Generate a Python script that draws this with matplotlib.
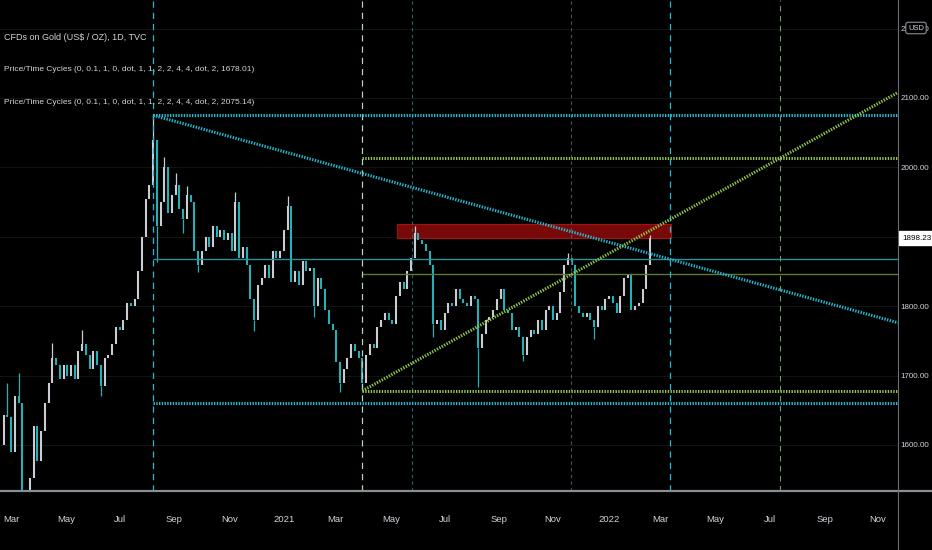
import matplotlib
matplotlib.use("Agg")
import matplotlib.pyplot as plt
import numpy as np
import pandas as pd

# gold closes, one every 3rd trading day from first_day to last_day
first_day = "2020-02-18"
last_day = "2022-02-18"
closes = [
    1600, 1643, 1640, 1590, 1670, 1660, 1530, 1477, 1553, 1627,
    1577, 1620, 1660, 1690, 1725, 1715, 1695, 1715, 1700, 1715,
    1695, 1735, 1745, 1730, 1710, 1735, 1715, 1685, 1725, 1730,
    1745, 1770, 1765, 1780, 1805, 1800, 1810, 1850, 1900, 1955,
    1975, 2040, 1915, 1950, 2000, 1935, 1960, 1975, 1940, 1925,
    1960, 1950, 1880, 1860, 1880, 1900, 1885, 1915, 1900, 1910,
    1895, 1905, 1880, 1950, 1870, 1885, 1860, 1810, 1780, 1830,
    1840, 1860, 1840, 1880, 1870, 1880, 1910, 1945, 1835, 1850,
    1830, 1865, 1850, 1855, 1800, 1840, 1825, 1795, 1775, 1765,
    1720, 1690, 1710, 1725, 1745, 1735, 1725, 1690, 1730, 1745,
    1740, 1770, 1780, 1790, 1780, 1775, 1815, 1835, 1825, 1850,
    1870, 1905, 1895, 1890, 1880, 1860, 1775, 1780, 1765, 1790,
    1805, 1800, 1825, 1810, 1805, 1800, 1815, 1810, 1740, 1760,
    1780, 1785, 1795, 1810, 1825, 1795, 1790, 1765, 1770, 1755,
    1730, 1755, 1765, 1760, 1780, 1765, 1795, 1800, 1780, 1790,
    1820, 1860, 1870, 1860, 1800, 1790, 1785, 1790, 1780, 1770,
    1800, 1795, 1810, 1815, 1805, 1790, 1815, 1840, 1845, 1795,
    1800, 1805, 1825, 1860, 1898.23,
]
# candle extremes beyond the bodies (sample number, price)
wick_at = [2, 5, 7, 14, 22, 27, 41, 42, 44, 47, 49, 50, 53, 63, 68, 77,
           84, 91, 97, 111, 116, 128, 140, 152, 159, 174]
wick_px = [1689, 1704, 1451, 1747, 1765, 1670, 2075.14, 1863, 2015, 1992,
           1906, 1973, 1849, 1965, 1764, 1959, 1785, 1677, 1678.01, 1916,
           1755, 1684, 1721, 1877, 1753, 1902]

cyan_day = "2020-08-07"
cyan_price = 2075.14
green_day = "2021-03-31"
green_price = 1678.01
step = 0.1

zone_from = "2021-05-10"
zone_to = "2022-03-14"
zone_low = 1898.3
zone_high = 1918.4

last_price = 1898.23
price_ticks = [1600, 1700, 1800, 1900, 2000, 2100, 2200]

title = "CFDs on Gold (US$ / OZ), 1D, TVC"
ind1 = "Price/Time Cycles (0, 0.1, 1, 0, dot, 1, 1, 2, 2, 4, 4, dot, 2, 1678.01)"
ind2 = "Price/Time Cycles (0, 0.1, 1, 0, dot, 1, 1, 2, 2, 4, 4, dot, 2, 2075.14)"

FONT = "Liberation Sans"
TXT = "#d1d4dc"
CYAN = "#27b9d3"
GREEN = "#8fc34f"
UP = "#c9ccd3"
DOWN = "#21b1b6"

days = pd.bdate_range(first_day, "2022-12-30")


def bar(day):
    return days.get_loc(pd.Timestamp(day))


fig = plt.figure(figsize=(9.32, 5.5), dpi=100, facecolor="black")
ax = fig.add_axes([0, 59 / 550, 898 / 932, 491 / 550], facecolor="black")
x0, x1 = 0, 721
ax.set_xlim(x0, x1)
ax.set_ylim(1533.7, 2241.2)

for p in price_ticks:
    ax.axhline(p, color="#121212", lw=0.8, zorder=0)

# candles
xs = np.arange(0, bar(last_day) + 1, 3)
for i in range(1, len(closes)):
    o, c = closes[i - 1], closes[i]
    col = UP if c >= o else DOWN
    ax.vlines(xs[i], min(o, c), max(o, c), color=col, lw=1.5, zorder=3)
for i, p in zip(wick_at, wick_px):
    o, c = closes[i - 1], closes[i]
    col = UP if c >= o else DOWN
    edge = max(o, c) if p > max(o, c) else min(o, c)
    ax.vlines(xs[i], min(edge, p), max(edge, p), color=col, lw=0.9, zorder=3)

# resistance zone
zx = bar(zone_from)
ax.add_patch(plt.Rectangle((zx, zone_low), bar(zone_to) - zx, zone_high - zone_low,
                           facecolor="#780909", edgecolor="#a01414", lw=0.8, zorder=2))

dots = (0, (0.45, 0.45))
for day, price, color, mid, sign in [
    (cyan_day, cyan_price, CYAN, "#2a8e9c", -1),
    (green_day, green_price, GREEN, "#5c7a34", 1),
]:
    a = bar(day)
    t = price * step
    if sign < 0:
        levels = [price, price - t, price - 2 * t]
        slope = -price * step / (2 * t)
    else:
        levels = [price, price + t, price + 2 * t]
        slope = 2 * price * step / (2 * t)
    ax.hlines([levels[0], levels[2]], a, x1, color=color, lw=2.2, linestyles=[dots], zorder=5)
    ax.hlines(levels[1], a, x1, color=mid, lw=1.0, zorder=4)
    ax.plot([a, x1], [price, price + slope * (x1 - a)], color=color, lw=2.2,
            linestyle=dots, zorder=5)

# time cycle verticals
ca, ga = bar(cyan_day), bar(green_day)
ct, gt = cyan_price * step, green_price * step
ax.axvline(ca, color=CYAN, lw=0.9, linestyle=(0, (5, 4)), zorder=4)
ax.axvline(ca + 2 * ct, color=CYAN, lw=0.9, linestyle=(0, (5, 4)), zorder=4)
ax.axvline(ca + ct, color="#1d6b6b", lw=0.8, linestyle=(0, (3, 3)), zorder=4)
ax.axvline(ga, color="#b5d3bd", lw=0.9, linestyle=(0, (5, 4)), zorder=4)
ax.axvline(ga + gt, color="#505550", lw=0.8, linestyle=(0, (3, 3)), zorder=4)
ax.axvline(ga + 2 * gt, color="#6e9a6e", lw=0.8, linestyle=(0, (5, 4)), zorder=4)

# axes
for s in ax.spines.values():
    s.set_visible(False)
ax.yaxis.tick_right()
ax.set_yticks(price_ticks)
ax.set_yticklabels([f"{p:.2f}" for p in price_ticks], family=FONT, fontsize=5.8)
ax.tick_params(axis="y", length=0, pad=2.0, labelcolor=TXT)

months = pd.date_range("2020-03-01", "2022-11-01", freq="2MS")
tick_x = [days.searchsorted(m) for m in months]
tick_lab = [str(m.year) if m.month == 1 else m.strftime("%b") for m in months]
ax.set_xticks(tick_x)
ax.set_xticklabels(tick_lab, family=FONT, fontsize=6.8)
ax.tick_params(axis="x", length=0, pad=17, labelcolor=TXT)

fig.add_artist(plt.Line2D([0, 1], [59 / 550, 59 / 550], color="#8a8d95", lw=1.6))
fig.add_artist(plt.Line2D([898 / 932, 898 / 932], [0, 1], color="#6a6d75", lw=0.8))

# last price tag and currency button
ax.text(1.0045, last_price, f"{last_price:.2f}", transform=ax.get_yaxis_transform(),
        ha="left", va="center", color="black", family=FONT, fontsize=5.8,
        bbox=dict(boxstyle="square,pad=0.4", facecolor="white", edgecolor="white"))
fig.text(916 / 932, 1 - 28 / 550, "USD", ha="center", va="center", color=TXT,
         family=FONT, fontsize=5.4, zorder=10,
         bbox=dict(boxstyle="round,pad=0.3", facecolor="black", edgecolor="#8a8d95", lw=0.8))

fig.text(4 / 932, 1 - 37 / 550, title, ha="left", va="center", color=TXT, family=FONT, fontsize=6.5)
fig.text(4 / 932, 1 - 70 / 550, ind1, ha="left", va="center", color=TXT, family=FONT, fontsize=6)
fig.text(4 / 932, 1 - 102 / 550, ind2, ha="left", va="center", color=TXT, family=FONT, fontsize=6)

fig.savefig("out.png", dpi=100, facecolor="black")
